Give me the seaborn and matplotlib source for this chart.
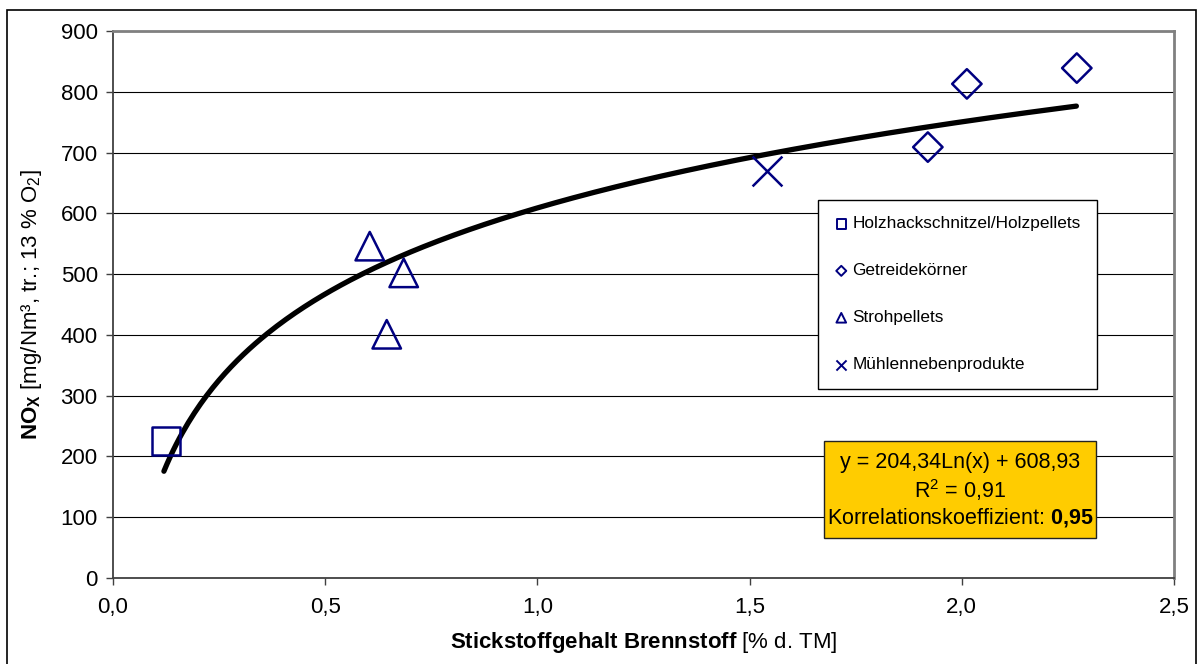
import numpy as np
import pandas as pd
import seaborn as sns
import matplotlib
matplotlib.use("Agg")
import matplotlib.pyplot as plt
from matplotlib.patches import Rectangle

# Measured fuels: nitrogen content [% d. TM] vs. NOx emission
categories = ["Holzhackschnitzel/Holzpellets", "Getreidekörner", "Strohpellets", "Mühlennebenprodukte"]
holz_x = [0.125]
holz_y = [225]
getreide_x = [1.92, 2.012, 2.271]
getreide_y = [709, 813, 839]
stroh_x = [0.605, 0.685, 0.645]
stroh_y = [546, 502, 401]
muehle_x = [1.541]
muehle_y = [670]

# Logarithmic regression y = a*ln(x) + b
fit_a = 204.34
fit_b = 608.93
fit_r2 = 0.91
fit_r = 0.95
fit_range = [0.12, 2.27]

x_ticks = [0.0, 0.5, 1.0, 1.5, 2.0, 2.5]
y_ticks = [0, 100, 200, 300, 400, 500, 600, 700, 800, 900]

sns.set_theme(style="white")
plt.rcParams["font.family"] = ["Liberation Sans", "DejaVu Sans"]
plt.rcParams["mathtext.fontset"] = "custom"
plt.rcParams["mathtext.rm"] = "Liberation Sans"
plt.rcParams["mathtext.it"] = "Liberation Sans:italic"
plt.rcParams["mathtext.bf"] = "Liberation Sans:bold"
plt.rcParams["text.color"] = "black"
plt.rcParams["axes.labelcolor"] = "black"
plt.rcParams["xtick.color"] = "black"
plt.rcParams["ytick.color"] = "black"

navy = "#000080"

df = pd.concat([
    pd.DataFrame({"x": holz_x, "y": holz_y, "Brennstoff": categories[0]}),
    pd.DataFrame({"x": getreide_x, "y": getreide_y, "Brennstoff": categories[1]}),
    pd.DataFrame({"x": stroh_x, "y": stroh_y, "Brennstoff": categories[2]}),
    pd.DataFrame({"x": muehle_x, "y": muehle_y, "Brennstoff": categories[3]}),
], ignore_index=True)

fig = plt.figure(figsize=(12.02, 6.64), dpi=100)
ax = fig.add_axes([0.094, 0.1295, 0.8827, 0.8238])

# Horizontal grid
ax.set_axisbelow(True)
ax.yaxis.grid(True, color="black", linewidth=0.8)
ax.xaxis.grid(False)

# Regression curve
fx = np.linspace(fit_range[0], fit_range[1], 300)
curve = pd.DataFrame({"x": fx, "y": fit_a * np.log(fx) + fit_b})
sns.lineplot(data=curve, x="x", y="y", ax=ax, color="black", linewidth=3.8,
             legend=False, zorder=3)

# Fuel groups
marker_map = {categories[0]: ("s", 400), categories[1]: ("D", 225),
              categories[2]: ("^", 420), categories[3]: ("x", 460)}
for cat in categories:
    sub = df[df["Brennstoff"] == cat]
    m, s = marker_map[cat]
    if m == "x":
        sns.scatterplot(data=sub, x="x", y="y", ax=ax, marker=m, s=s,
                        color=navy, linewidth=1.8, label=cat, zorder=4)
    else:
        sns.scatterplot(data=sub, x="x", y="y", ax=ax, marker=m, s=s,
                        color=navy, facecolor="none", edgecolor=navy,
                        linewidth=1.8, label=cat, zorder=4)

ax.set_xlim(0, 2.5)
ax.set_ylim(0, 900)
ax.set_xticks(x_ticks)
ax.set_yticks(y_ticks)
ax.set_xticklabels([f"{v:.1f}".replace(".", ",") for v in x_ticks])
ax.set_yticklabels([str(v) for v in y_ticks])
ax.tick_params(axis="both", labelsize=16, direction="out", length=5,
               width=1, color="#404040", labelcolor="black", bottom=True, left=True)
ax.tick_params(axis="y", pad=6)
ax.tick_params(axis="x", pad=9)

for side in ["top", "right"]:
    ax.spines[side].set_color("#808080")
    ax.spines[side].set_linewidth(2)
for side in ["left", "bottom"]:
    ax.spines[side].set_color("#404040")
    ax.spines[side].set_linewidth(1.3)

ax.set_xlabel(r"$\mathbf{Stickstoffgehalt\ Brennstoff}$ [% d. TM]", fontsize=16, labelpad=8)
ax.set_ylabel(r"$\mathbf{NO_X}$ [mg/Nm³, tr.; 13 % O$_2$]", fontsize=16, labelpad=12)

# Legend
leg = ax.legend(loc="upper left", bbox_to_anchor=(0.6645, 0.691), borderaxespad=0,
                fontsize=12.4, markerscale=0.34, scatterpoints=1, frameon=True,
                fancybox=False, framealpha=1, edgecolor="black",
                labelspacing=1.85, borderpad=0.95, handlelength=0.8,
                handletextpad=0.25)
leg.get_frame().set_linewidth(1.0)
for h in leg.legend_handles:
    h.set_linewidth(1.4)

# Regression equation box
ax.add_patch(Rectangle((0.670, 0.0731), 0.2565, 0.1774, transform=ax.transAxes,
                       facecolor="#FFCC00", edgecolor="#222222", linewidth=1.0,
                       zorder=5))
cx = 0.670 + 0.2565 / 2
fmt = lambda v: f"{v:.2f}".replace(".", ",")
ax.text(cx, 0.212, f"y = {fmt(fit_a)}Ln(x) + {fmt(fit_b)}", transform=ax.transAxes,
        ha="center", va="center", fontsize=15.5, zorder=6)
ax.text(cx, 0.161, r"R$^2$ = " + fmt(fit_r2), transform=ax.transAxes,
        ha="center", va="center", fontsize=15.5, zorder=6)
ax.text(cx, 0.110, "Korrelationskoeffizient: " + r"$\mathbf{" + fmt(fit_r).replace(",", "{,}") + "}$",
        transform=ax.transAxes, ha="center", va="center", fontsize=15.5, zorder=6)

# Outer frame
fig.patches.append(Rectangle((7 / 1202, -0.02), 1189 / 1202, 1.005,
                             transform=fig.transFigure, fill=False,
                             edgecolor="black", linewidth=1.2))

fig.savefig("out.png", dpi=100)
